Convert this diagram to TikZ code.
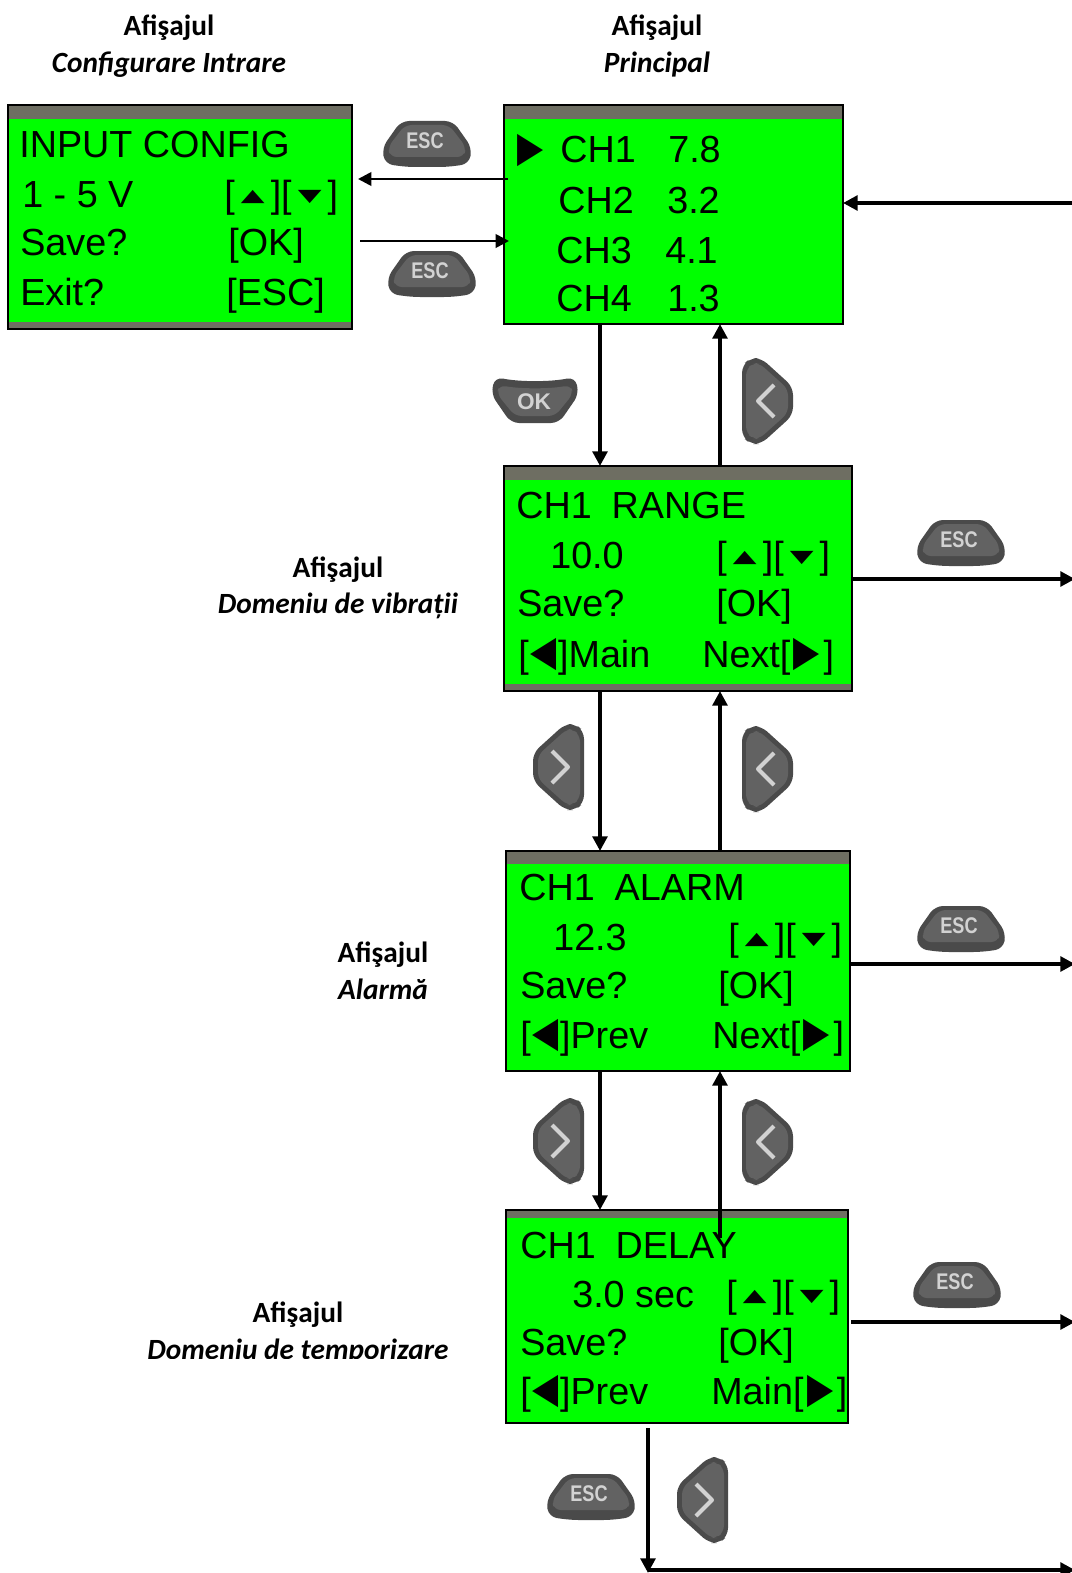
\documentclass[tikz,border=0pt]{standalone}
\usepackage{fontspec}
\setmainfont{Liberation Sans}
\newfontfamily\capfont{Carlito}
\newfontfamily\glyphfont{DejaVu Sans}
\usetikzlibrary{arrows.meta,calc}
\definecolor{lcdgreen}{HTML}{00FF00}
\definecolor{lcdbar}{HTML}{6E6E62}
\definecolor{btndark}{HTML}{4A4A4A}
\definecolor{btnsoft}{HTML}{626262}
\definecolor{btnink}{HTML}{D2D2D2}
\newcommand{\upk}{\makebox[27pt]{\raisebox{4pt}{\scalebox{.82}[.46]{\glyphfont ▲}}}}
\newcommand{\dnk}{\makebox[27pt]{\raisebox{4pt}{\scalebox{.82}[.46]{\glyphfont ▼}}}}
\newcommand{\lfk}{\makebox[22pt]{\raisebox{1.5pt}{\scalebox{.9}[1.12]{\glyphfont ◀}}}}
\newcommand{\rtk}{\makebox[25pt]{\raisebox{1.5pt}{\scalebox{.9}[1.12]{\glyphfont ▶}}}}
\tikzset{
  screen/.style={fill=lcdgreen, inner sep=0pt, outer sep=0pt},
  lcdtext/.style={font=\fontsize{28.3}{30}\selectfont, anchor=base west, inner sep=0pt},
  tag/.style={font=\capfont\fontsize{22}{27.5}\selectfont, align=center, inner sep=0pt},
  flow/.style={-{Triangle[length=11pt, width=11pt]}, line width=3pt},
  thinflow/.style={-{Triangle[length=10pt, width=10pt]}, line width=2pt},
  btnlabel/.style={font=\bfseries\fontsize{17}{17}\selectfont, text=btnink, inner sep=0pt},
  escbtn/.pic={
    \fill[btndark, rounded corners=6pt] (-26,-23) -- (26,-23) -- (45,4) -- (42,20) -- (20,23) -- (-20,23) -- (-42,20) -- (-45,4) -- cycle;
    \fill[btnsoft, rounded corners=5pt] (-22,-19) -- (22,-19) -- (39,3) -- (37,13) -- (-37,13) -- (-39,3) -- cycle;
    \node[btnlabel, xscale=.8] (-lbl) at (-2,-3) {ESC};
  },
  okbtn/.pic={
    \fill[btndark, rounded corners=6pt] (-40,-23) .. controls (-15,-18) and (15,-18) .. (40,-23) -- (44,-6) -- (24,23) -- (-24,23) -- (-44,-6) -- cycle;
    \fill[btnsoft, rounded corners=5pt] (-36,-15) .. controls (-15,-11) and (15,-11) .. (36,-15) -- (38,-6) -- (20,16) -- (-20,16) -- (-38,-6) -- cycle;
    \node[btnlabel] (-lbl) at (-1,2) {OK};
  },
  chevbtn/.pic={
    \fill[btndark, rounded corners=6pt] (-25,-36) -- (-16,-43) -- (-6,-43) -- (26,-14) -- (26,14) -- (-6,43) -- (-16,43) -- (-25,36) -- cycle;
    \fill[btnsoft, rounded corners=5pt] (-21,-32) -- (-13,-38) -- (-8,-38) -- (21,-12) -- (21,12) -- (-8,38) -- (-13,38) -- (-21,32) -- cycle;
    \draw[btnink, line width=3pt, line join=round] (7,-16) -- (-9,0) -- (7,16);
  },
}
\begin{document}
\begin{tikzpicture}[x=0.75pt, y=-0.75pt]
  \useasboundingbox (0,0) rectangle (1071,1573);

  % captions
  \node[tag] (capinput) at (169,46) {\bfseries Afişajul\\\bfseries\itshape Configurare Intrare};
  \node[tag] (capmain) at (657,46) {\bfseries Afişajul\\\bfseries\itshape Principal};
  \node[tag] (caprange) at (338,588) {\bfseries Afişajul\\\bfseries\itshape Domeniu de vibrații};
  \node[tag] (capalarm) at (383,971) {\bfseries Afişajul\\\bfseries\itshape Alarmă};
  \begin{scope}
    \clip (100,1285) rectangle (480,1358);
    \node[tag] (capdelay) at (298,1333) {\bfseries Afişajul\\\bfseries\itshape Domeniu de temporizare};
  \end{scope}

  % screens: name, centre, size, bars, border
  \foreach \n/\x/\y/\w/\h/\bt/\bb/\lw in {input/180/217/344/224/14/7/2.2,
      main/673.5/214.5/339/219/14/0/1.2,
      range/678/578.5/348/225/14/7/2.2,
      alarm/678/961/344/220/13/0/1.2,
      delay/677/1316.5/342/213/8/0/1.2}
    { \node[screen, minimum width=\w*0.75pt, minimum height=\h*0.75pt] (\n) at (\x,\y) {};
      \fill[lcdbar] (\n.north west) rectangle ($(\n.north east)+(0,\bt)$);
      \fill[lcdbar] (\n.south west) rectangle ($(\n.south east)+(0,-\bb)$);
      \draw[line width=\lw pt] (\n.north west) rectangle (\n.south east); }

  % screen lines
  \foreach \x/\y/\n/\txt in {19/157/ia/INPUT CONFIG, 22/207/ib/1 - 5 V, 224/207/ic/{[\upk][\dnk]},
      20/255/id/Save?, 228/255/ie/{[OK]}, 20/305/if/Exit?, 226/305/ig/{[ESC]},
      514/163/ma/\rtk, 560/163/mb/CH1, 668/163/mc/7.8, 558/213/md/CH2, 667/213/me/3.2,
      556/263/mf/CH3, 665/263/mg/4.1, 556/311/mh/CH4, 667/311/mi/1.3,
      516/518/ra/CH1\hspace{15pt}RANGE, 550/568/rb/10.0, 716/568/rc/{[\upk][\dnk]}, 517/616/rd/Save?, 716/616/re/{[OK]},
      518/667/rf/{[\lfk]Main}, 702/667/rg/{Next[\rtk]},
      519/900/aa/CH1\hspace{15pt}ALARM, 553/950/ab/12.3, 728/950/ac/{[\upk][\dnk]}, 520/998/ad/Save?, 718/998/ae/{[OK]},
      520/1048/af/{[\lfk]Prev}, 712/1048/ag/{Next[\rtk]},
      520/1258/da/CH1\hspace{15pt}DELAY, 572/1307/db/3.0 sec, 726/1307/dc/{[\upk][\dnk]}, 520/1355/dd/Save?, 718/1355/de/{[OK]},
      520/1404/df/{[\lfk]Prev}, 711/1404/dg/{Main[\rtk]}}
    { \node[lcdtext] (\n) at (\x,\y) {\txt}; }

  % buttons
  \pic (escback) at (427,144) {escbtn};
  \pic (escsave) at (432,274) {escbtn};
  \pic (okmain) at (535,400) {okbtn};
  \pic (prevmain) at (767,401) {chevbtn};
  \pic (escrange) at (961,543) {escbtn};
  \pic[xscale=-1] (nextrange) at (559,767) {chevbtn};
  \pic (prevrange) at (767,769) {chevbtn};
  \pic (escalarm) at (961,929) {escbtn};
  \pic[xscale=-1] (nextalarm) at (559,1141) {chevbtn};
  \pic (prevalarm) at (767,1142) {chevbtn};
  \pic (escdelay) at (957,1285) {escbtn};
  \pic (escbottom) at (591,1497) {escbtn};
  \pic[xscale=-1] (nextdelay) at (703,1500) {chevbtn};

  % connector ends
  \coordinate (down) at (600,0);
  \coordinate (up) at (720,0);
  \coordinate (backin) at (1075,203);
  \coordinate (outrange) at (1075,579);
  \coordinate (outalarm) at (1075,964);
  \coordinate (outdelay) at (1075,1322);
  \coordinate (inputout) at (358,179);
  \coordinate (inputin) at (360,241);
  \coordinate (delayup) at (720,1238);
  \coordinate (delayfoot) at (648,1428);
  \coordinate (delaycorner) at (648,1573);
  \coordinate (footstart) at (648,1570);
  \coordinate (footend) at (1075,1570);

  % arrows
  \draw[thinflow] ($(main.west |- inputout)+(4,0)$) -- (inputout);
  \draw[thinflow] (inputin) -- ($(main.west |- inputin)+(5,0)$);
  \draw[flow] (backin) -- (main.east |- backin);
  \draw[flow] (main.south -| down) -- (range.north -| down);
  \draw[flow] (range.north -| up) -- (main.south -| up);
  \draw[flow] (range.south -| down) -- (alarm.north -| down);
  \draw[flow] (alarm.north -| up) -- (range.south -| up);
  \draw[flow] (alarm.south -| down) -- (delay.north -| down);
  \draw[flow] (delayup) -- (alarm.south -| up);
  \draw[flow] ($(range.east |- outrange)+(1,0)$) -- (outrange);
  \draw[flow] ($(alarm.east |- outalarm)+(1,0)$) -- (outalarm);
  \draw[flow] ($(delay.east |- outdelay)+(3,0)$) -- (outdelay);
  \draw[flow] (delayfoot) -- (delaycorner);
  \draw[flow] (footstart) -- (footend);
\end{tikzpicture}
\end{document}
